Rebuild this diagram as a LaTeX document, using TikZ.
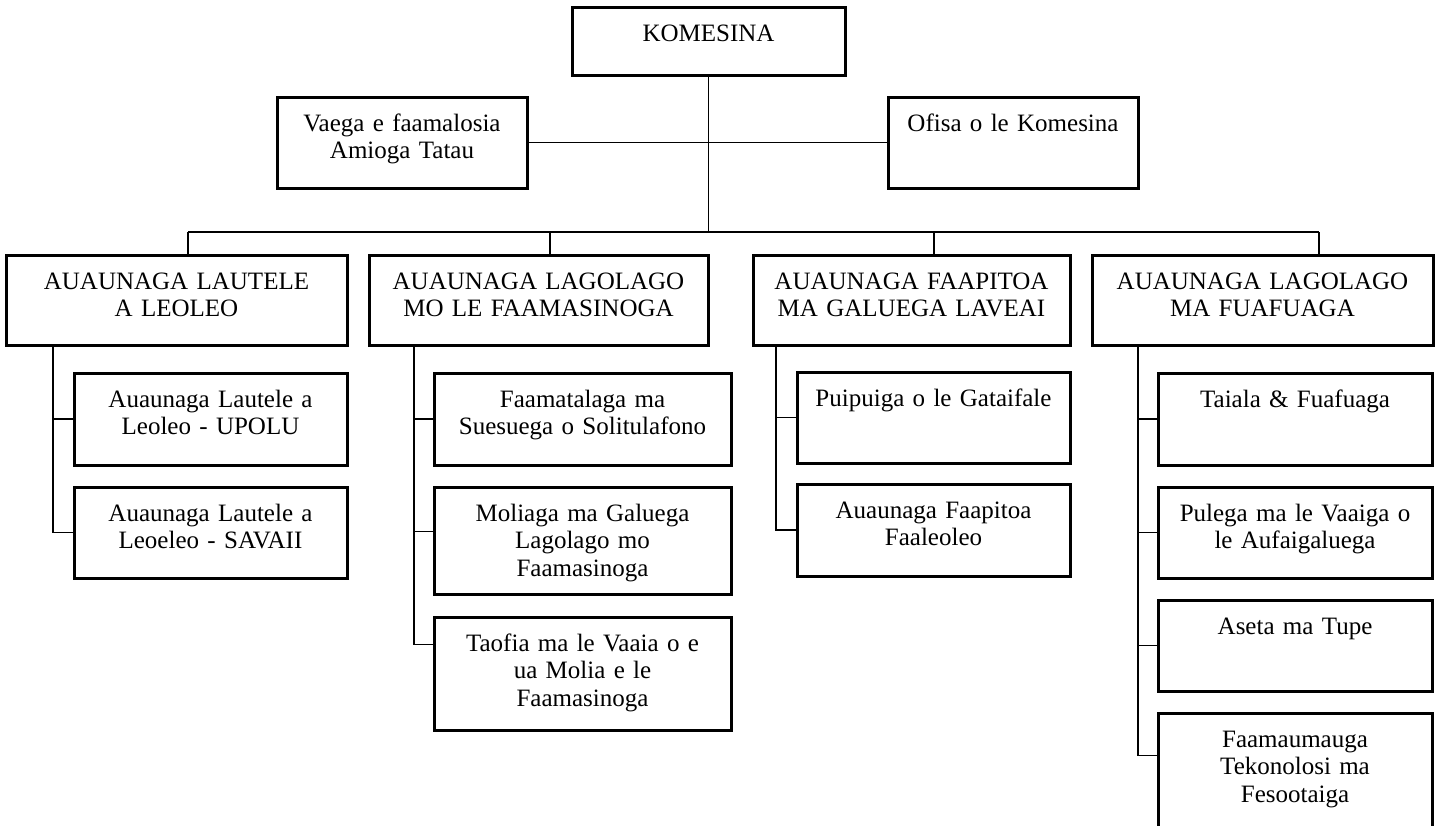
\documentclass[tikz,border=0pt]{standalone}
\usepackage{fontspec}
\setmainfont{Liberation Serif}
\usetikzlibrary{calc}

\begin{document}
\begin{tikzpicture}[x=0.5pt, y=-0.5pt,
  font=\fontsize{12.5pt}{13.8pt}\selectfont,
  unit/.style 2 args={draw, line width=1.5pt, inner sep=0pt, align=center,
    text width=#1, text height=17pt, text depth=#2},
  link/.style={line width=0.7pt}]

\useasboundingbox (0,0) rectangle (1439,825);

% Komesina
\node[unit={136.5pt}{17pt}] (kom) at (708.5,41) {KOMESINA};

% Vaega / Ofisa
\node[unit={125pt}{28.5pt}] (vaega) at (402,142.5) {Vaega e faamalosia\\ Amioga Tatau};
\node[unit={125pt}{28.5pt}] (ofisa) at (1013,142.5) {Ofisa o le Komesina};

% Auaunaga
\node[unit={170.5pt}{28pt}] (lA) at (176.5,300) {AUAUNAGA LAUTELE\\ A LEOLEO};
\node[unit={169.5pt}{28pt}] (lB) at (538.5,300) {AUAUNAGA LAGOLAGO\\ MO LE FAAMASINOGA};
\node[unit={158.5pt}{28pt}] (lC) at (911.5,300) {AUAUNAGA FAAPITOA\\ MA GALUEGA LAVEAI};
\node[unit={170.5pt}{28pt}] (lD) at (1262.5,300) {AUAUNAGA LAGOLAGO\\ MA FUAFUAGA};

% Column A
\node[unit={136.5pt}{29pt}] (A1) at (210.5,419) {Auaunaga Lautele a\\ Leoleo - UPOLU};
\node[unit={136.5pt}{28.5pt}] (A2) at (210.5,532.5) {Auaunaga Lautele a\\ Leoeleo - SAVAII};

% Column B
\node[unit={148.5pt}{29pt}] (B1) at (582.5,419) {Faamatalaga ma\\ Suesuega o Solitulafono};
\node[unit={148.5pt}{36.5pt}] (B2) at (582.5,540.5) {Moliaga ma Galuega\\ Lagolago mo\\ Faamasinoga};
\node[unit={148.5pt}{39.5pt}] (B3) at (582.5,673.5) {Taofia ma le Vaaia o e\\ ua Molia e le\\ Faamasinoga};

% Column C
\node[unit={136.5pt}{28.5pt}] (C1) at (933.5,417.5) {Puipuiga o le Gataifale};
\node[unit={136.5pt}{29pt}] (C2) at (933.5,530) {Auaunaga Faapitoa\\ Faaleoleo};

% Column D
\node[unit={137pt}{29pt}] (D1) at (1295,419) {Taiala \& Fuafuaga};
\node[unit={137pt}{28.5pt}] (D2) at (1295,532.5) {Pulega ma le Vaaiga o\\ le Aufaigaluega};
\node[unit={137pt}{28.5pt}] (D3) at (1295,645.5) {Aseta ma Tupe};
\node[unit={137pt}{44pt}] (D4) at (1295,774) {Faamaumauga\\ Tekonolosi ma\\ Fesootaiga};

% Lines from the top
\coordinate (dA) at (188,232);
\coordinate (dB) at (550,232);
\coordinate (dC) at (934,232);
\coordinate (dD) at (1319,232);
\draw[link] (kom.south) -- (kom.south |- dA);
\draw[link] (vaega.east) -- (ofisa.west);
\draw[link] (dA) -- (dD);
\draw[link] (dA) -- (dA |- lA.north);
\draw[link] (dB) -- (dB |- lB.north);
\draw[link] (dC) -- (dC |- lC.north);
\draw[link] (dD) -- (dD |- lD.north);

% Lines to the columns
\coordinate (tA) at (53,345);
\coordinate (tB) at (414,345);
\coordinate (tC) at (776,345);
\coordinate (tD) at (1138,345);
\draw[link] (tA) |- (A1.west);
\draw[link] (tA) |- (A2.west);
\draw[link] (tB) |- (B1.west);
\draw[link] (tB) |- ($(B2.north west)+(0,46)$);
\draw[link] (tB) |- ($(B3.north west)+(0,29)$);
\draw[link] (tC) |- (C1.west);
\draw[link] (tC) |- (C2.west);
\draw[link] (tD) |- (D1.west);
\draw[link] (tD) |- (D2.west);
\draw[link] (tD) |- (D3.west);
\draw[link] (tD) |- ($(D4.north west)+(0,44)$);

\end{tikzpicture}
\end{document}
